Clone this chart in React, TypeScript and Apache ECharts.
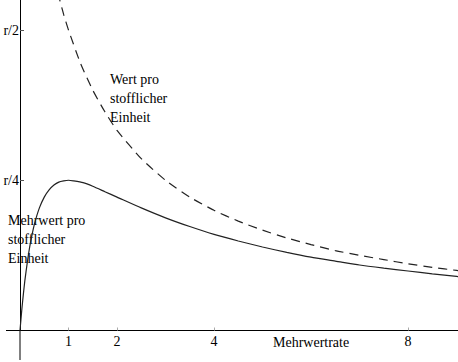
import React, { useEffect, useRef } from "react";
import * as echarts from "echarts";

const solidX = [0, 0.02, 0.04, 0.07, 0.1, 0.15, 0.2, 0.25, 0.3, 0.4, 0.5, 0.6, 0.7, 0.8, 0.9, 1, 1.1, 1.3, 1.5, 1.75, 2, 2.5, 3, 3.5, 4, 4.5, 5, 5.5, 6, 6.5, 7, 7.5, 8, 8.5, 9, 9.1];
const solidY = [0, 0.019, 0.037, 0.061, 0.083, 0.113, 0.139, 0.16, 0.178, 0.204, 0.222, 0.234, 0.242, 0.247, 0.249, 0.25, 0.249, 0.246, 0.24, 0.231, 0.222, 0.204, 0.1875, 0.173, 0.16, 0.149, 0.139, 0.13, 0.122, 0.1156, 0.109, 0.1038, 0.099, 0.0942, 0.09, 0.089];
const dashX = [0.78, 0.9, 1, 1.25, 1.5, 1.75, 2, 2.5, 3, 3.5, 4, 4.5, 5, 5.5, 6, 6.5, 7, 7.5, 8, 8.5, 9, 9.1];
const dashY = [0.562, 0.526, 0.5, 0.444, 0.4, 0.364, 0.333, 0.286, 0.25, 0.222, 0.2, 0.182, 0.167, 0.154, 0.143, 0.133, 0.125, 0.118, 0.111, 0.105, 0.1, 0.099];
const xTicks = [1, 2, 4, 8];
const yTicks = [0.25, 0.5];
const yTickLabels: Record<string, string> = { "0.25": "r/4", "0.5": "r/2" };
const xName = "Mehrwertrate";
const labelWert = "Wert pro\nstofflicher\nEinheit";
const labelMehrwert = "Mehrwert pro\nstofflicher\nEinheit";

const FONT = "Liberation Serif";

export default function App() {
  const ref = useRef<HTMLDivElement>(null);
  useEffect(() => {
    if (!ref.current) return;
    const chart = echarts.init(ref.current, undefined, { renderer: "svg" });
    const ox = 20;
    const oy = 330.5;
    chart.setOption({
      animation: false,
      backgroundColor: "#fff",
      textStyle: { fontFamily: FONT },
      grid: { left: ox, right: 0, top: 0, bottom: 362 - oy, containLabel: false, outerBoundsMode: "none" },
      xAxis: {
        type: "value",
        min: 0,
        max: 9.03,
        axisLine: { onZero: false, lineStyle: { color: "#000", width: 1 } },
        axisTick: { show: true, inside: true, length: 3, customValues: xTicks, lineStyle: { color: "#aaa" } },
        axisLabel: {
          customValues: xTicks,
          margin: 4,
          color: "#000",
          fontFamily: FONT,
          fontSize: 14,
        },
        splitLine: { show: false },
      },
      yAxis: {
        type: "value",
        min: 0,
        max: 0.55,
        axisLine: { onZero: false, lineStyle: { color: "#000", width: 1 } },
        axisTick: { show: true, inside: true, length: 4, customValues: yTicks, lineStyle: { color: "#555" } },
        axisLabel: {
          customValues: yTicks,
          margin: 1,
          color: "#000",
          fontFamily: FONT,
          fontSize: 14,
          formatter: (v: number) => yTickLabels[String(v)] ?? "",
        },
        splitLine: { show: false },
      },
      series: [
        {
          type: "line",
          data: solidX.map((x, i) => [x, solidY[i]]),
          showSymbol: false,
          smooth: 0.2,
          lineStyle: { color: "#222", width: 1.2 },
          clip: true,
        },
        {
          type: "line",
          data: dashX.map((x, i) => [x, dashY[i]]),
          showSymbol: false,
          smooth: 0.2,
          lineStyle: { color: "#222", width: 1.2, type: [9, 6] },
          clip: true,
        },
      ],
      graphic: [
        {
          type: "line",
          shape: { x1: 6, y1: oy, x2: ox, y2: oy },
          style: { stroke: "#000", lineWidth: 1 },
          silent: true,
        },
        {
          type: "line",
          shape: { x1: ox, y1: oy, x2: ox, y2: 360 },
          style: { stroke: "#000", lineWidth: 1 },
          silent: true,
        },
        {
          type: "text",
          left: 110,
          top: 70,
          style: { text: labelWert, fontFamily: FONT, fontSize: 14, fill: "#000", lineHeight: 19 },
        },
        {
          type: "text",
          left: 8,
          top: 211,
          style: { text: labelMehrwert, fontFamily: FONT, fontSize: 14, fill: "#000", lineHeight: 19 },
        },
        {
          type: "text",
          left: 273,
          top: 335,
          style: { text: xName, fontFamily: FONT, fontSize: 14, fill: "#000" },
        },
      ],
    });
    return () => chart.dispose();
  }, []);
  return (
    <div
      ref={ref}
      style={{ position: "fixed", left: 0, top: 0, width: 458, height: 362 }}
    />
  );
}
